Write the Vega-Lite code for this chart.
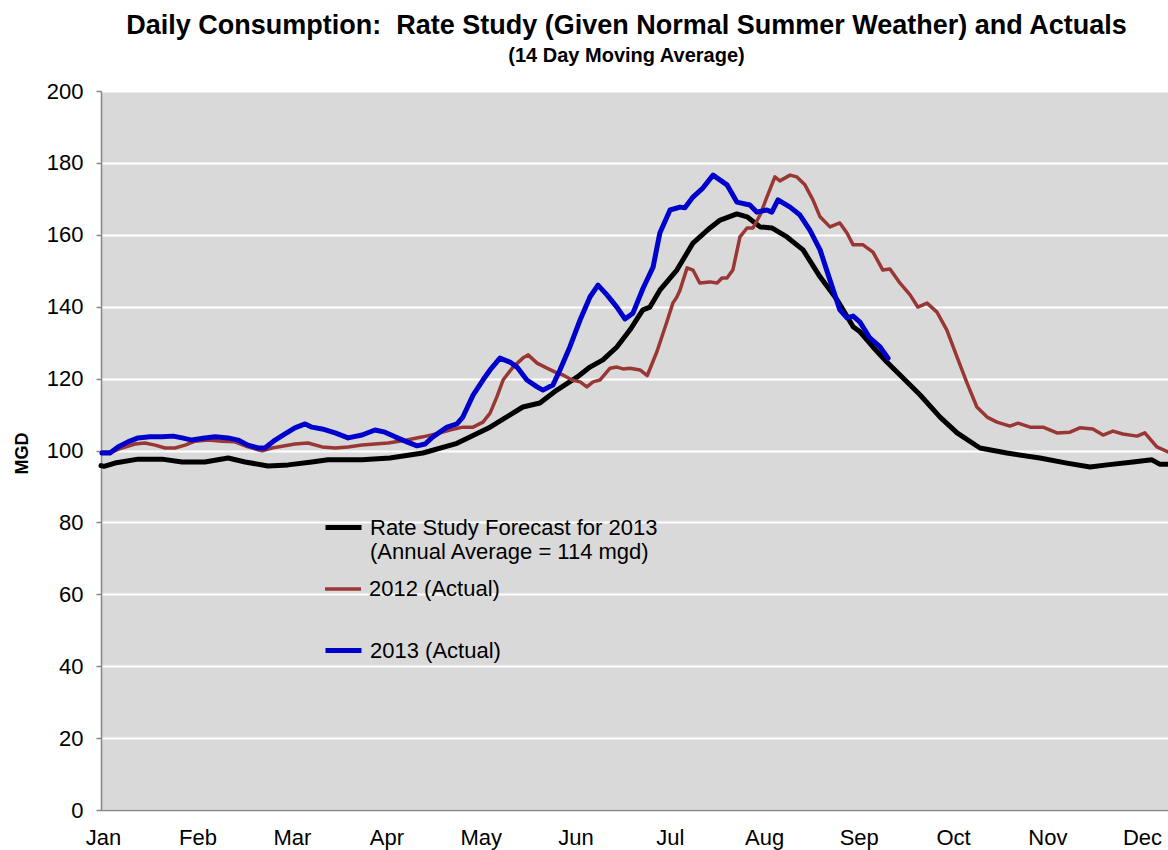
{
  "$schema": "https://vega.github.io/schema/vega-lite/v6.json",
  "width": 1067,
  "height": 719,
  "autosize": {"type": "none"},
  "padding": {"left": 101, "top": 91, "right": 0, "bottom": 40},
  "background": "white",
  "title": {
    "text": "Daily Consumption:\u00a0 Rate Study (Given Normal Summer Weather) and Actuals",
    "subtitle": "(14 Day Moving Average)",
    "font": "Liberation Sans",
    "fontSize": 27,
    "fontWeight": "bold",
    "color": "#000000",
    "subtitleFont": "Liberation Sans",
    "subtitleFontSize": 20,
    "subtitleFontWeight": "bold",
    "subtitleColor": "#000000",
    "subtitlePadding": 6,
    "anchor": "middle",
    "frame": "group",
    "dx": -8,
    "offset": 13
  },
  "datasets": {
    "forecast": [
      {"series": "Rate Study Forecast for 2013", "day": 0, "mgd": 95.8}, {"series": "Rate Study Forecast for 2013", "day": 1, "mgd": 95.6},
      {"series": "Rate Study Forecast for 2013", "day": 4.5, "mgd": 96.5}, {"series": "Rate Study Forecast for 2013", "day": 12, "mgd": 97.6},
      {"series": "Rate Study Forecast for 2013", "day": 19.7, "mgd": 97.6}, {"series": "Rate Study Forecast for 2013", "day": 26.2, "mgd": 96.8},
      {"series": "Rate Study Forecast for 2013", "day": 33.6, "mgd": 96.8}, {"series": "Rate Study Forecast for 2013", "day": 41.1, "mgd": 97.9},
      {"series": "Rate Study Forecast for 2013", "day": 46.6, "mgd": 96.8}, {"series": "Rate Study Forecast for 2013", "day": 54, "mgd": 95.7},
      {"series": "Rate Study Forecast for 2013", "day": 60.5, "mgd": 96}, {"series": "Rate Study Forecast for 2013", "day": 68.2, "mgd": 96.8},
      {"series": "Rate Study Forecast for 2013", "day": 73.4, "mgd": 97.4}, {"series": "Rate Study Forecast for 2013", "day": 84.4, "mgd": 97.4},
      {"series": "Rate Study Forecast for 2013", "day": 93.4, "mgd": 97.9}, {"series": "Rate Study Forecast for 2013", "day": 104.1, "mgd": 99.3},
      {"series": "Rate Study Forecast for 2013", "day": 115.1, "mgd": 102}, {"series": "Rate Study Forecast for 2013", "day": 125.8, "mgd": 106.5},
      {"series": "Rate Study Forecast for 2013", "day": 136.4, "mgd": 112.1}, {"series": "Rate Study Forecast for 2013", "day": 141.9, "mgd": 113.2},
      {"series": "Rate Study Forecast for 2013", "day": 147.4, "mgd": 116.8}, {"series": "Rate Study Forecast for 2013", "day": 153.9, "mgd": 120.4},
      {"series": "Rate Study Forecast for 2013", "day": 158.1, "mgd": 123.2}, {"series": "Rate Study Forecast for 2013", "day": 162.3, "mgd": 125.2},
      {"series": "Rate Study Forecast for 2013", "day": 166.8, "mgd": 128.8}, {"series": "Rate Study Forecast for 2013", "day": 171, "mgd": 133.5},
      {"series": "Rate Study Forecast for 2013", "day": 175.2, "mgd": 139.1}, {"series": "Rate Study Forecast for 2013", "day": 177.5, "mgd": 139.9},
      {"series": "Rate Study Forecast for 2013", "day": 180.7, "mgd": 144.6}, {"series": "Rate Study Forecast for 2013", "day": 186.2, "mgd": 150.2},
      {"series": "Rate Study Forecast for 2013", "day": 191.4, "mgd": 157.7}, {"series": "Rate Study Forecast for 2013", "day": 196.9, "mgd": 161.9},
      {"series": "Rate Study Forecast for 2013", "day": 200.2, "mgd": 164.1}, {"series": "Rate Study Forecast for 2013", "day": 205.6, "mgd": 165.8},
      {"series": "Rate Study Forecast for 2013", "day": 208.9, "mgd": 165}, {"series": "Rate Study Forecast for 2013", "day": 213.1, "mgd": 162.2},
      {"series": "Rate Study Forecast for 2013", "day": 216.9, "mgd": 161.9}, {"series": "Rate Study Forecast for 2013", "day": 221.8, "mgd": 159.4},
      {"series": "Rate Study Forecast for 2013", "day": 227, "mgd": 155.8}, {"series": "Rate Study Forecast for 2013", "day": 232.5, "mgd": 148.3},
      {"series": "Rate Study Forecast for 2013", "day": 238, "mgd": 141.9}, {"series": "Rate Study Forecast for 2013", "day": 243.2, "mgd": 134.4},
      {"series": "Rate Study Forecast for 2013", "day": 245.4, "mgd": 133}, {"series": "Rate Study Forecast for 2013", "day": 249.6, "mgd": 128.8},
      {"series": "Rate Study Forecast for 2013", "day": 254.1, "mgd": 124.6}, {"series": "Rate Study Forecast for 2013", "day": 264.8, "mgd": 115.5},
      {"series": "Rate Study Forecast for 2013", "day": 271.3, "mgd": 109.3}, {"series": "Rate Study Forecast for 2013", "day": 276.8, "mgd": 104.9},
      {"series": "Rate Study Forecast for 2013", "day": 284.2, "mgd": 100.7}, {"series": "Rate Study Forecast for 2013", "day": 292.9, "mgd": 99.3},
      {"series": "Rate Study Forecast for 2013", "day": 303.6, "mgd": 97.9}, {"series": "Rate Study Forecast for 2013", "day": 312.3, "mgd": 96.5},
      {"series": "Rate Study Forecast for 2013", "day": 319.8, "mgd": 95.4}, {"series": "Rate Study Forecast for 2013", "day": 325.3, "mgd": 96},
      {"series": "Rate Study Forecast for 2013", "day": 333.7, "mgd": 96.8}, {"series": "Rate Study Forecast for 2013", "day": 339.8, "mgd": 97.4},
      {"series": "Rate Study Forecast for 2013", "day": 342.3, "mgd": 96.2}, {"series": "Rate Study Forecast for 2013", "day": 345, "mgd": 96.2}
    ],
    "a2012": [
      {"series": "2012 (Actual)", "day": 0.3, "mgd": 99.6}, {"series": "2012 (Actual)", "day": 3.6, "mgd": 99.6}, {"series": "2012 (Actual)", "day": 6.8, "mgd": 100.7},
      {"series": "2012 (Actual)", "day": 11, "mgd": 101.8}, {"series": "2012 (Actual)", "day": 14.2, "mgd": 102.1}, {"series": "2012 (Actual)", "day": 17.5, "mgd": 101.5},
      {"series": "2012 (Actual)", "day": 20.7, "mgd": 100.7}, {"series": "2012 (Actual)", "day": 23.9, "mgd": 100.7}, {"series": "2012 (Actual)", "day": 27.2, "mgd": 101.5},
      {"series": "2012 (Actual)", "day": 30.4, "mgd": 102.6}, {"series": "2012 (Actual)", "day": 34.6, "mgd": 102.9}, {"series": "2012 (Actual)", "day": 39.1, "mgd": 102.6},
      {"series": "2012 (Actual)", "day": 43.3, "mgd": 102.4}, {"series": "2012 (Actual)", "day": 47.5, "mgd": 101}, {"series": "2012 (Actual)", "day": 52.1, "mgd": 99.9},
      {"series": "2012 (Actual)", "day": 55.3, "mgd": 100.7}, {"series": "2012 (Actual)", "day": 59.5, "mgd": 101.3}, {"series": "2012 (Actual)", "day": 62.7, "mgd": 101.8},
      {"series": "2012 (Actual)", "day": 66.9, "mgd": 102.1}, {"series": "2012 (Actual)", "day": 71.5, "mgd": 101}, {"series": "2012 (Actual)", "day": 75.7, "mgd": 100.7},
      {"series": "2012 (Actual)", "day": 79.9, "mgd": 101}, {"series": "2012 (Actual)", "day": 84.4, "mgd": 101.5}, {"series": "2012 (Actual)", "day": 88.6, "mgd": 101.8},
      {"series": "2012 (Actual)", "day": 92.8, "mgd": 102.1}, {"series": "2012 (Actual)", "day": 98.9, "mgd": 102.9}, {"series": "2012 (Actual)", "day": 104.1, "mgd": 103.8},
      {"series": "2012 (Actual)", "day": 109.6, "mgd": 104.9}, {"series": "2012 (Actual)", "day": 112.8, "mgd": 105.7}, {"series": "2012 (Actual)", "day": 117, "mgd": 106.5},
      {"series": "2012 (Actual)", "day": 120.3, "mgd": 106.5}, {"series": "2012 (Actual)", "day": 123.5, "mgd": 107.9}, {"series": "2012 (Actual)", "day": 125.8, "mgd": 110.4},
      {"series": "2012 (Actual)", "day": 128, "mgd": 114.9}, {"series": "2012 (Actual)", "day": 130, "mgd": 119.6}, {"series": "2012 (Actual)", "day": 133.2, "mgd": 123.2},
      {"series": "2012 (Actual)", "day": 136.4, "mgd": 125.7}, {"series": "2012 (Actual)", "day": 138.1, "mgd": 126.6}, {"series": "2012 (Actual)", "day": 141, "mgd": 124.3},
      {"series": "2012 (Actual)", "day": 144.2, "mgd": 122.9}, {"series": "2012 (Actual)", "day": 147.4, "mgd": 121.6}, {"series": "2012 (Actual)", "day": 149.4, "mgd": 121},
      {"series": "2012 (Actual)", "day": 152.3, "mgd": 119.6}, {"series": "2012 (Actual)", "day": 154.9, "mgd": 119.1}, {"series": "2012 (Actual)", "day": 157.1, "mgd": 117.7},
      {"series": "2012 (Actual)", "day": 159.1, "mgd": 119.1}, {"series": "2012 (Actual)", "day": 161.3, "mgd": 119.6}, {"series": "2012 (Actual)", "day": 164.6, "mgd": 122.9},
      {"series": "2012 (Actual)", "day": 166.8, "mgd": 123.2}, {"series": "2012 (Actual)", "day": 168.8, "mgd": 122.7}, {"series": "2012 (Actual)", "day": 171, "mgd": 122.9},
      {"series": "2012 (Actual)", "day": 174.3, "mgd": 122.4}, {"series": "2012 (Actual)", "day": 176.6, "mgd": 120.8}, {"series": "2012 (Actual)", "day": 179.8, "mgd": 127.6},
      {"series": "2012 (Actual)", "day": 183, "mgd": 135.9}, {"series": "2012 (Actual)", "day": 184.9, "mgd": 141}, {"series": "2012 (Actual)", "day": 186.2, "mgd": 142.7},
      {"series": "2012 (Actual)", "day": 187.2, "mgd": 144.6}, {"series": "2012 (Actual)", "day": 189.5, "mgd": 150.8}, {"series": "2012 (Actual)", "day": 191.4, "mgd": 150.2},
      {"series": "2012 (Actual)", "day": 193.6, "mgd": 146.6}, {"series": "2012 (Actual)", "day": 196.9, "mgd": 146.9}, {"series": "2012 (Actual)", "day": 199.2, "mgd": 146.6},
      {"series": "2012 (Actual)", "day": 200.8, "mgd": 148}, {"series": "2012 (Actual)", "day": 202.4, "mgd": 148}, {"series": "2012 (Actual)", "day": 204.3, "mgd": 150.2},
      {"series": "2012 (Actual)", "day": 206.6, "mgd": 159.4}, {"series": "2012 (Actual)", "day": 208.9, "mgd": 161.9}, {"series": "2012 (Actual)", "day": 210.8, "mgd": 161.9},
      {"series": "2012 (Actual)", "day": 213.1, "mgd": 165.5}, {"series": "2012 (Actual)", "day": 215.3, "mgd": 170.5}, {"series": "2012 (Actual)", "day": 217.9, "mgd": 176.1},
      {"series": "2012 (Actual)", "day": 219.5, "mgd": 175}, {"series": "2012 (Actual)", "day": 222.8, "mgd": 176.6}, {"series": "2012 (Actual)", "day": 225, "mgd": 176.1},
      {"series": "2012 (Actual)", "day": 227.6, "mgd": 173.9}, {"series": "2012 (Actual)", "day": 230.2, "mgd": 169.7}, {"series": "2012 (Actual)", "day": 232.5, "mgd": 165},
      {"series": "2012 (Actual)", "day": 235.7, "mgd": 162.2}, {"series": "2012 (Actual)", "day": 238.9, "mgd": 163.3}, {"series": "2012 (Actual)", "day": 241.2, "mgd": 160.5},
      {"series": "2012 (Actual)", "day": 243.2, "mgd": 157.2}, {"series": "2012 (Actual)", "day": 246.4, "mgd": 157.2}, {"series": "2012 (Actual)", "day": 249.6, "mgd": 155.2},
      {"series": "2012 (Actual)", "day": 252.8, "mgd": 150.2}, {"series": "2012 (Actual)", "day": 255.1, "mgd": 150.5}, {"series": "2012 (Actual)", "day": 258.3, "mgd": 146.6},
      {"series": "2012 (Actual)", "day": 261.6, "mgd": 143.3}, {"series": "2012 (Actual)", "day": 264.1, "mgd": 139.9}, {"series": "2012 (Actual)", "day": 267.1, "mgd": 141},
      {"series": "2012 (Actual)", "day": 270.3, "mgd": 138.5}, {"series": "2012 (Actual)", "day": 273.5, "mgd": 133.5}, {"series": "2012 (Actual)", "day": 276.8, "mgd": 126},
      {"series": "2012 (Actual)", "day": 280, "mgd": 118.8}, {"series": "2012 (Actual)", "day": 283.2, "mgd": 112.1}, {"series": "2012 (Actual)", "day": 286.5, "mgd": 109.3},
      {"series": "2012 (Actual)", "day": 289.7, "mgd": 107.9}, {"series": "2012 (Actual)", "day": 293.9, "mgd": 106.8}, {"series": "2012 (Actual)", "day": 296.5, "mgd": 107.6},
      {"series": "2012 (Actual)", "day": 300.4, "mgd": 106.5}, {"series": "2012 (Actual)", "day": 304.6, "mgd": 106.5}, {"series": "2012 (Actual)", "day": 309.1, "mgd": 104.9},
      {"series": "2012 (Actual)", "day": 313.3, "mgd": 105.1}, {"series": "2012 (Actual)", "day": 316.5, "mgd": 106.3}, {"series": "2012 (Actual)", "day": 320.7, "mgd": 106},
      {"series": "2012 (Actual)", "day": 324, "mgd": 104.3}, {"series": "2012 (Actual)", "day": 327.2, "mgd": 105.4}, {"series": "2012 (Actual)", "day": 330.4, "mgd": 104.6},
      {"series": "2012 (Actual)", "day": 335, "mgd": 104}, {"series": "2012 (Actual)", "day": 337.5, "mgd": 104.9}, {"series": "2012 (Actual)", "day": 341.4, "mgd": 101},
      {"series": "2012 (Actual)", "day": 345, "mgd": 99.6}
    ],
    "a2013": [
      {"series": "2013 (Actual)", "day": 0.3, "mgd": 99.3}, {"series": "2013 (Actual)", "day": 2.9, "mgd": 99.3}, {"series": "2013 (Actual)", "day": 5.5, "mgd": 101},
      {"series": "2013 (Actual)", "day": 8.7, "mgd": 102.4}, {"series": "2013 (Actual)", "day": 12, "mgd": 103.5}, {"series": "2013 (Actual)", "day": 15.8, "mgd": 103.8},
      {"series": "2013 (Actual)", "day": 19.7, "mgd": 103.8}, {"series": "2013 (Actual)", "day": 23.3, "mgd": 104}, {"series": "2013 (Actual)", "day": 26.2, "mgd": 103.5},
      {"series": "2013 (Actual)", "day": 29.4, "mgd": 102.9}, {"series": "2013 (Actual)", "day": 33.6, "mgd": 103.5}, {"series": "2013 (Actual)", "day": 36.9, "mgd": 103.8},
      {"series": "2013 (Actual)", "day": 41.1, "mgd": 103.5}, {"series": "2013 (Actual)", "day": 44.3, "mgd": 102.9}, {"series": "2013 (Actual)", "day": 47.5, "mgd": 101.5},
      {"series": "2013 (Actual)", "day": 50.8, "mgd": 100.7}, {"series": "2013 (Actual)", "day": 53, "mgd": 100.7}, {"series": "2013 (Actual)", "day": 56.3, "mgd": 102.9},
      {"series": "2013 (Actual)", "day": 59.5, "mgd": 104.6}, {"series": "2013 (Actual)", "day": 62.7, "mgd": 106.3}, {"series": "2013 (Actual)", "day": 66, "mgd": 107.4},
      {"series": "2013 (Actual)", "day": 68.2, "mgd": 106.5}, {"series": "2013 (Actual)", "day": 71.5, "mgd": 106}, {"series": "2013 (Actual)", "day": 75.7, "mgd": 104.9},
      {"series": "2013 (Actual)", "day": 79.9, "mgd": 103.5}, {"series": "2013 (Actual)", "day": 84.4, "mgd": 104.3}, {"series": "2013 (Actual)", "day": 88.6, "mgd": 105.7},
      {"series": "2013 (Actual)", "day": 91.8, "mgd": 105.1}, {"series": "2013 (Actual)", "day": 95.1, "mgd": 103.8}, {"series": "2013 (Actual)", "day": 98.9, "mgd": 102.4},
      {"series": "2013 (Actual)", "day": 102.2, "mgd": 101.3}, {"series": "2013 (Actual)", "day": 104.8, "mgd": 101.8}, {"series": "2013 (Actual)", "day": 107.3, "mgd": 103.8},
      {"series": "2013 (Actual)", "day": 111.9, "mgd": 106.5}, {"series": "2013 (Actual)", "day": 115.1, "mgd": 107.4}, {"series": "2013 (Actual)", "day": 117, "mgd": 109.3},
      {"series": "2013 (Actual)", "day": 120.3, "mgd": 115.4}, {"series": "2013 (Actual)", "day": 123.5, "mgd": 119.6}, {"series": "2013 (Actual)", "day": 125.8, "mgd": 122.4},
      {"series": "2013 (Actual)", "day": 129, "mgd": 125.7}, {"series": "2013 (Actual)", "day": 132.2, "mgd": 124.6}, {"series": "2013 (Actual)", "day": 134.5, "mgd": 123.2},
      {"series": "2013 (Actual)", "day": 137.7, "mgd": 119.6}, {"series": "2013 (Actual)", "day": 141, "mgd": 117.7}, {"series": "2013 (Actual)", "day": 142.9, "mgd": 116.8},
      {"series": "2013 (Actual)", "day": 146.1, "mgd": 118.2}, {"series": "2013 (Actual)", "day": 148.4, "mgd": 122.4}, {"series": "2013 (Actual)", "day": 151.6, "mgd": 128.8},
      {"series": "2013 (Actual)", "day": 154.9, "mgd": 136.3}, {"series": "2013 (Actual)", "day": 158.1, "mgd": 142.7}, {"series": "2013 (Actual)", "day": 160.7, "mgd": 146},
      {"series": "2013 (Actual)", "day": 163.6, "mgd": 143.3}, {"series": "2013 (Actual)", "day": 166.8, "mgd": 139.9}, {"series": "2013 (Actual)", "day": 169.4, "mgd": 136.6},
      {"series": "2013 (Actual)", "day": 172, "mgd": 138.2}, {"series": "2013 (Actual)", "day": 175.2, "mgd": 145}, {"series": "2013 (Actual)", "day": 178.5, "mgd": 151},
      {"series": "2013 (Actual)", "day": 180.7, "mgd": 160.5}, {"series": "2013 (Actual)", "day": 184, "mgd": 166.9}, {"series": "2013 (Actual)", "day": 187.2, "mgd": 167.7},
      {"series": "2013 (Actual)", "day": 188.8, "mgd": 167.5}, {"series": "2013 (Actual)", "day": 191.4, "mgd": 170.5}, {"series": "2013 (Actual)", "day": 194.6, "mgd": 173},
      {"series": "2013 (Actual)", "day": 197.9, "mgd": 176.6}, {"series": "2013 (Actual)", "day": 200.2, "mgd": 175.2}, {"series": "2013 (Actual)", "day": 202.4, "mgd": 173.9},
      {"series": "2013 (Actual)", "day": 205.6, "mgd": 169.1}, {"series": "2013 (Actual)", "day": 209.8, "mgd": 168.3}, {"series": "2013 (Actual)", "day": 212.1, "mgd": 166.3},
      {"series": "2013 (Actual)", "day": 215.3, "mgd": 166.9}, {"series": "2013 (Actual)", "day": 216.9, "mgd": 166.3}, {"series": "2013 (Actual)", "day": 218.9, "mgd": 169.7},
      {"series": "2013 (Actual)", "day": 222.8, "mgd": 167.7}, {"series": "2013 (Actual)", "day": 226, "mgd": 165.5}, {"series": "2013 (Actual)", "day": 229.2, "mgd": 161.3},
      {"series": "2013 (Actual)", "day": 232.5, "mgd": 155.8}, {"series": "2013 (Actual)", "day": 235.7, "mgd": 147.4}, {"series": "2013 (Actual)", "day": 238.9, "mgd": 139.1},
      {"series": "2013 (Actual)", "day": 241.2, "mgd": 136.9}, {"series": "2013 (Actual)", "day": 243.2, "mgd": 137.4}, {"series": "2013 (Actual)", "day": 245.4, "mgd": 135.7},
      {"series": "2013 (Actual)", "day": 248.6, "mgd": 131.3}, {"series": "2013 (Actual)", "day": 251.9, "mgd": 128.8}, {"series": "2013 (Actual)", "day": 254.5, "mgd": 125.7}
    ]
  },
  "encoding": {
    "x": {
      "field": "day",
      "type": "quantitative",
      "scale": {"domain": [0, 345], "nice": false, "zero": false},
      "axis": {
        "title": null,
        "grid": false,
        "ticks": false,
        "values": [0.65, 31.2, 61.7, 92.3, 122.8, 153.4, 183.9, 214.4, 245, 275.5, 306, 336.6],
        "labelExpr": "['Jan','Feb','Mar','Apr','May','Jun','Jul','Aug','Sep','Oct','Nov','Dec'][round((datum.value - 0.65) / 30.54)]",
        "labelFlush": false,
        "labelOverlap": false,
        "labelPadding": 17,
        "labelFont": "Liberation Sans",
        "labelFontSize": 22,
        "labelColor": "#000000",
        "domainColor": "#868686",
        "domainWidth": 1.5
      }
    },
    "y": {
      "field": "mgd",
      "type": "quantitative",
      "scale": {"domain": [0, 200], "nice": false},
      "axis": {
        "title": "MGD",
        "titleFont": "Liberation Sans",
        "titleFontSize": 18,
        "titleFontWeight": "bold",
        "titleColor": "#000000",
        "titleX": -79,
        "titleY": 362,
        "titleAngle": -90,
        "titleAlign": "center",
        "titleBaseline": "middle",
        "values": [0, 20, 40, 60, 80, 100, 120, 140, 160, 180, 200],
        "grid": true,
        "gridColor": "#FFFFFF",
        "gridWidth": 2,
        "ticks": true,
        "tickSize": 5,
        "tickColor": "#868686",
        "tickWidth": 1.5,
        "labelPadding": 13,
        "labelFont": "Liberation Sans",
        "labelFontSize": 22,
        "labelColor": "#000000",
        "domainColor": "#868686",
        "domainWidth": 1.5
      }
    }
  },
  "layer": [
    {
      "data": {"name": "forecast"},
      "mark": {"type": "line", "strokeWidth": 5, "strokeCap": "round", "strokeJoin": "round"},
      "encoding": {
        "color": {
          "field": "series",
          "type": "nominal",
          "scale": {"range": ["#000000"]},
          "legend": {
            "title": null,
            "orient": "none",
            "legendX": 222,
            "legendY": 416,
            "labelExpr": "['Rate Study Forecast for 2013', '(Annual Average = 114 mgd)']",
            "symbolStrokeWidth": 5
          }
        }
      }
    },
    {
      "data": {"name": "a2012"},
      "mark": {"type": "line", "strokeWidth": 3.5, "strokeCap": "round", "strokeJoin": "round"},
      "encoding": {
        "color": {
          "field": "series",
          "type": "nominal",
          "scale": {"range": ["#993735"]},
          "legend": {
            "title": null,
            "orient": "none",
            "legendX": 222,
            "legendY": 478,
            "symbolStrokeWidth": 3.5
          }
        }
      }
    },
    {
      "data": {"name": "a2013"},
      "mark": {"type": "line", "strokeWidth": 5, "strokeCap": "round", "strokeJoin": "round"},
      "encoding": {
        "color": {
          "field": "series",
          "type": "nominal",
          "scale": {"range": ["#0000CC"]},
          "legend": {
            "title": null,
            "orient": "none",
            "legendX": 222,
            "legendY": 539,
            "symbolStrokeWidth": 5
          }
        }
      }
    }
  ],
  "resolve": {"scale": {"color": "independent"}, "legend": {"color": "independent"}},
  "config": {
    "view": {"fill": "#D9D9D9", "stroke": null},
    "legend": {
      "symbolType": "stroke",
      "symbolSize": 1296,
      "labelFont": "Liberation Sans",
      "labelFontSize": 22,
      "labelColor": "#000000",
      "labelOffset": 6,
      "labelLimit": 0,
      "padding": 0,
      "offset": 0
    }
  }
}
